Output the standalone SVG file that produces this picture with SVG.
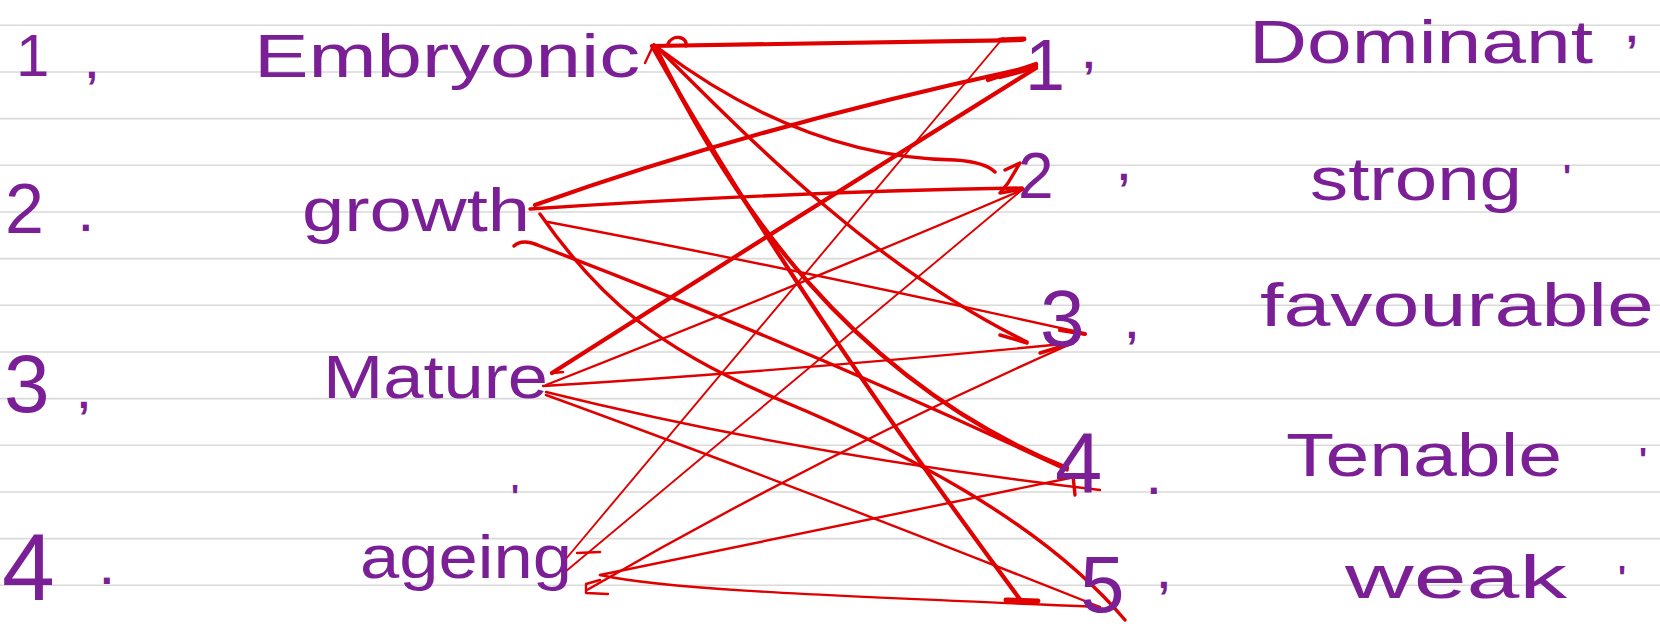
<svg xmlns="http://www.w3.org/2000/svg" width="1660" height="628" viewBox="0 0 1660 628">
<style>
.rule{stroke:#d9d9d9;stroke-width:1.6}
.t{font-family:"Liberation Sans",Arial,sans-serif;fill:#7b1f96}
.w{font-size:62px}
.m{font-size:42px;font-weight:bold}
.q{font-size:34px;font-weight:bold}
.c{fill:none;stroke:#e00000;stroke-linecap:round;stroke-linejoin:round}
.w5{stroke-width:5}.w4{stroke-width:4.2}.w3{stroke-width:3.4}.w2{stroke-width:2.4}.w1{stroke-width:1.9}
</style>
<rect width="1660" height="628" fill="#ffffff"/>
<g id="ruling">
<line class="rule" x1="0" y1="25.3" x2="1660" y2="25.3"/>
<line class="rule" x1="0" y1="72" x2="1660" y2="72"/>
<line class="rule" x1="0" y1="118.6" x2="1660" y2="118.6"/>
<line class="rule" x1="0" y1="165.3" x2="1660" y2="165.3"/>
<line class="rule" x1="0" y1="212" x2="1660" y2="212"/>
<line class="rule" x1="0" y1="258.6" x2="1660" y2="258.6"/>
<line class="rule" x1="0" y1="305.3" x2="1660" y2="305.3"/>
<line class="rule" x1="0" y1="352" x2="1660" y2="352"/>
<line class="rule" x1="0" y1="398.6" x2="1660" y2="398.6"/>
<line class="rule" x1="0" y1="445.3" x2="1660" y2="445.3"/>
<line class="rule" x1="0" y1="492" x2="1660" y2="492"/>
<line class="rule" x1="0" y1="538.6" x2="1660" y2="538.6"/>
<line class="rule" x1="0" y1="585.3" x2="1660" y2="585.3"/>
</g>
<g id="connectors">
<path class="c w4" d="M653,46 Q820,44 1022,40"/>
<path class="c w5" d="M1000,40 L1024,39"/>
<path class="c w3" d="M658,48 C740,110 840,158 955,160 Q985,162 995,172"/>
<path class="c w3" d="M660,50 C760,150 880,270 1027,342"/>
<path class="c w3" d="M1000,335 L1027,343"/>
<path class="c w4" d="M655,46 C730,200 850,380 1067,468"/>
<path class="c w4" d="M652,46 Q790,290 1022,602"/>
<path class="c w5" d="M1006,600 L1038,601"/>
<path class="c w3" d="M668,44 C672,34 688,36 686,46"/>
<path class="c w2" d="M645,63 L654,44"/>
<path class="c w4" d="M535,205 Q760,125 1036,66"/>
<path class="c w4" d="M988,80 L1036,64 M1000,77 L1034,68"/>
<path class="c w3" d="M530,209 Q780,192 1022,188"/>
<path class="c w3" d="M1005,170 L1020,163 L1008,183 L1000,193 L1023,189"/>
<path class="c w3" d="M514,246 Q522,238 540,246 Q800,345 1067,470"/>
<path class="c w2" d="M548,222 Q800,270 1083,333"/>
<path class="c w4" d="M1060,330 L1085,334"/>
<path class="c w3" d="M540,214 C600,300 660,350 780,400 C900,450 1040,520 1125,620"/>
<path class="c w4" d="M552,373 Q800,215 1036,68"/>
<path class="c w2" d="M553,373 L563,372"/>
<path class="c w2" d="M546,385 Q800,285 1022,190"/>
<path class="c w2" d="M543,386 Q800,370 1073,343"/>
<path class="c w3" d="M1040,353 L1073,343"/>
<path class="c w2" d="M546,392 Q800,455 1100,490"/>
<path class="c w2" d="M546,395 Q780,480 1100,607"/>
<path class="c w1" d="M565,560 L1003,38"/>
<path class="c w1" d="M565,572 L1022,190"/>
<path class="c w2" d="M577,553 L600,552"/>
<path class="c w2" d="M587,590 Q820,455 1073,343"/>
<path class="c w2" d="M600,575 L1070,478"/>
<path class="c w3" d="M1073,476 L1075,495"/>
<path class="c w2" d="M600,575 C660,588 760,593 1100,607"/>
<path class="c w2" d="M608,594 L586,593 L586,584 L600,580"/>
</g>
<g id="left-1"><text class="t" x="16" y="76" font-size="60">1</text><text class="t m" x="86" y="78">,</text><text class="t w" x="254" y="77" textLength="386" lengthAdjust="spacingAndGlyphs">Embryonic</text></g>
<g id="left-2"><text class="t" x="5" y="233" font-size="70">2</text><text class="t m" x="80" y="231">.</text><text class="t w" x="302" y="231" textLength="228" lengthAdjust="spacingAndGlyphs">growth</text></g>
<g id="left-3"><text class="t" x="4" y="412" font-size="82">3</text><text class="t m" x="78" y="408">,</text><text class="t w" x="323" y="398" textLength="225" lengthAdjust="spacingAndGlyphs">Mature</text><text class="t q" x="511" y="508">'</text></g>
<g id="left-4"><text class="t" x="2" y="600" font-size="95">4</text><text class="t m" x="101" y="584">.</text><text class="t w" x="360" y="578" textLength="212" lengthAdjust="spacingAndGlyphs">ageing</text></g>
<g id="right-1"><text class="t" x="1025" y="90" font-size="72">1</text><text class="t m" x="1083" y="68">,</text><text class="t w" x="1249" y="63" textLength="344" lengthAdjust="spacingAndGlyphs">Dominant</text><text class="t m" x="1626" y="42">,</text></g>
<g id="right-2"><text class="t" x="1018" y="198" font-size="64">2</text><text class="t m" x="1118" y="180">,</text><text class="t w" x="1310" y="200" textLength="212" lengthAdjust="spacingAndGlyphs">strong</text><text class="t q" x="1563" y="188">'</text></g>
<g id="right-3"><text class="t" x="1040" y="346" font-size="80">3</text><text class="t m" x="1126" y="338">,</text><text class="t w" x="1260" y="326" textLength="394" lengthAdjust="spacingAndGlyphs">favourable</text></g>
<g id="right-4"><text class="t" x="1055" y="492" font-size="85">4</text><text class="t m" x="1148" y="494">.</text><text class="t w" x="1286" y="476" textLength="276" lengthAdjust="spacingAndGlyphs">Tenable</text><text class="t q" x="1639" y="471">'</text></g>
<g id="right-5"><text class="t" x="1080" y="612" font-size="80">5</text><text class="t m" x="1158" y="588">,</text><text class="t w" x="1345" y="598" textLength="222" lengthAdjust="spacingAndGlyphs">weak</text><text class="t q" x="1618" y="589">'</text></g>
</svg>
